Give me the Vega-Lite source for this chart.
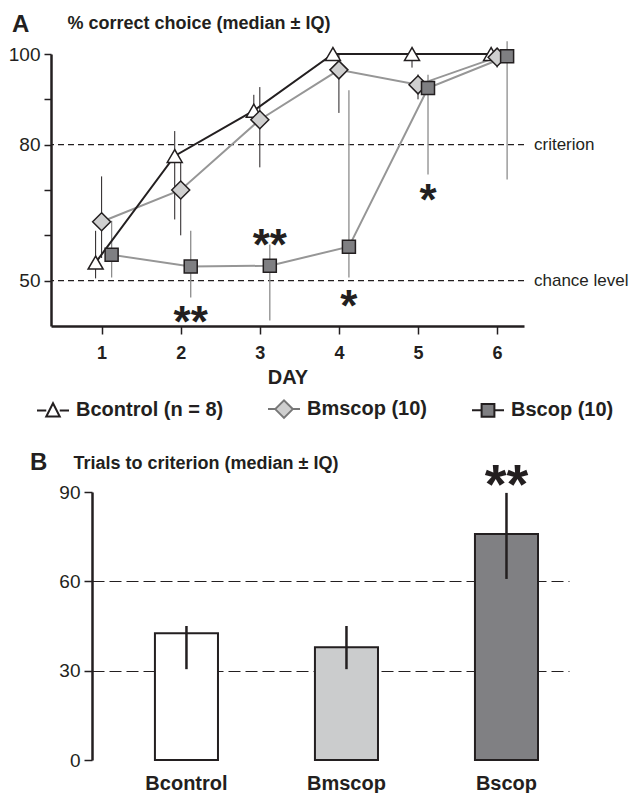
{
  "$schema": "https://vega.github.io/schema/vega-lite/v6.json",
  "background": "white",
  "padding": {"left": 8, "top": 13, "right": 0, "bottom": 0},
  "bounds": "flush",
  "spacing": 166,
  "config": {
    "font": "Liberation Sans",
    "view": {"stroke": null},
    "axis": {"domainColor": "#231f20", "tickColor": "#231f20", "labelColor": "#231f20", "titleColor": "#231f20", "grid": false, "labelFont": "Liberation Sans", "titleFont": "Liberation Sans"},
    "title": {"font": "Liberation Sans", "color": "#231f20"},
    "legend": {"labelFont": "Liberation Sans"}
  },
  "resolve": {"scale": {"x": "independent", "y": "independent", "fill": "independent"}, "legend": {"fill": "independent"}},
  "datasets": {
    "days": [
      {"group": "Bcontrol", "day": 1, "median": 54, "q1": 50.5, "q3": 61},
      {"group": "Bcontrol", "day": 2, "median": 77.5, "q1": 63.5, "q3": 83},
      {"group": "Bcontrol", "day": 3, "median": 87.5, "q1": 85, "q3": 91},
      {"group": "Bcontrol", "day": 4, "median": 100, "q1": null, "q3": null},
      {"group": "Bcontrol", "day": 5, "median": 100, "q1": 97, "q3": 100},
      {"group": "Bcontrol", "day": 6, "median": 100, "q1": null, "q3": null},
      {"group": "Bmscop", "day": 1, "median": 63, "q1": 55, "q3": 73},
      {"group": "Bmscop", "day": 2, "median": 70, "q1": 60, "q3": 76},
      {"group": "Bmscop", "day": 3, "median": 85.5, "q1": 75, "q3": 92.7},
      {"group": "Bmscop", "day": 4, "median": 96.5, "q1": 87, "q3": 100},
      {"group": "Bmscop", "day": 5, "median": 93.2, "q1": 90, "q3": 95.5},
      {"group": "Bmscop", "day": 6, "median": 99.3, "q1": 97, "q3": 100},
      {"group": "Bscop", "day": 1, "median": 55.7, "q1": 50.7, "q3": 63.2},
      {"group": "Bscop", "day": 2, "median": 53.1, "q1": 46.3, "q3": 61},
      {"group": "Bscop", "day": 3, "median": 53.3, "q1": 41.2, "q3": 58},
      {"group": "Bscop", "day": 4, "median": 57.5, "q1": 50.7, "q3": 92},
      {"group": "Bscop", "day": 5, "median": 92.5, "q1": 73.4, "q3": 95.4},
      {"group": "Bscop", "day": 6, "median": 99.5, "q1": 72.3, "q3": 102.8}
    ],
    "refs": [
      {"value": 80, "label": "criterion"},
      {"value": 50, "label": "chance level"}
    ],
    "stars": [
      {"day": 2, "y": 43, "sig": "**"},
      {"day": 3, "y": 60, "sig": "**"},
      {"day": 4, "y": 46.7, "sig": "*"},
      {"day": 5, "y": 70, "sig": "*"}
    ],
    "trials": [
      {"group": "Bcontrol", "median": 42.6, "q1": 30.5, "q3": 45, "sig": "", "sigY": null},
      {"group": "Bmscop", "median": 37.9, "q1": 30.5, "q3": 45, "sig": "", "sigY": null},
      {"group": "Bscop", "median": 75.9, "q1": 60.8, "q3": 89.7, "sig": "**", "sigY": 95.5}
    ]
  },
  "vconcat": [
    {
      "width": 473,
      "height": 272,
      "title": {"text": "A", "anchor": "start", "frame": "group", "dx": -39, "dy": 35, "fontSize": 24, "fontWeight": "bold", "baseline": "middle", "offset": 0},
      "layer": [
        {
          "data": {"name": "refs"},
          "mark": {"type": "rule", "strokeDash": [6, 4], "strokeWidth": 1.2, "color": "#231f20"},
          "encoding": {
            "y": {"field": "value", "type": "quantitative", "scale": {"domain": [40, 100], "nice": false, "zero": false},
              "axis": {"values": [50, 60, 70, 80, 90, 100], "labelExpr": "datum.value == 50 || datum.value == 80 || datum.value == 100 ? datum.label : ''", "labelFontSize": 19, "tickSize": 7, "tickWidth": 1.5, "labelPadding": 4, "domainWidth": 2.5,
                "title": "% correct choice (median ± IQ)", "titleAngle": 0, "titleAlign": "left", "titleBaseline": "middle", "titleX": 16, "titleY": -31, "titleFontSize": 18, "titleFontWeight": "bold"}}
          }
        },
        {
          "data": {"name": "refs"},
          "mark": {"type": "text", "x": "width", "dx": 10, "align": "left", "baseline": "middle", "fontSize": 17, "color": "#231f20"},
          "encoding": {
            "y": {"field": "value", "type": "quantitative", "scale": {"domain": [40, 100], "nice": false, "zero": false}},
            "text": {"field": "label"}
          }
        },
        {
          "data": {"name": "days"},
          "transform": [{"filter": "datum.group == 'Bcontrol'"}],
          "mark": {"type": "rule", "color": "#231f20", "strokeWidth": 1, "xOffset": -6},
          "encoding": {
            "x": {"field": "day", "type": "quantitative", "scale": {"domain": [0.36, 6.34], "nice": false, "zero": false},
              "axis": {"values": [1, 2, 3, 4, 5, 6], "format": "d", "labelFontSize": 18, "labelFontWeight": "bold", "tickSize": 8, "tickWidth": 1.5, "labelPadding": 10, "domainWidth": 2.5, "title": "DAY", "titleFontSize": 20, "titleFontWeight": "bold", "titlePadding": 5}},
            "y": {"field": "q1", "type": "quantitative", "scale": {"domain": [40, 100], "nice": false, "zero": false}},
            "y2": {"field": "q3"}
          }
        },
        {
          "data": {"name": "days"},
          "transform": [{"filter": "datum.group == 'Bmscop'"}],
          "mark": {"type": "rule", "color": "#231f20", "strokeWidth": 1, "xOffset": 0},
          "encoding": {
            "x": {"field": "day", "type": "quantitative", "scale": {"domain": [0.36, 6.34], "nice": false, "zero": false}},
            "y": {"field": "q1", "type": "quantitative", "scale": {"domain": [40, 100], "nice": false, "zero": false}},
            "y2": {"field": "q3"}
          }
        },
        {
          "data": {"name": "days"},
          "transform": [{"filter": "datum.group == 'Bscop'"}],
          "mark": {"type": "rule", "color": "#8c8c8c", "strokeWidth": 1.3, "xOffset": 10},
          "encoding": {
            "x": {"field": "day", "type": "quantitative", "scale": {"domain": [0.36, 6.34], "nice": false, "zero": false}},
            "y": {"field": "q1", "type": "quantitative", "scale": {"domain": [40, 100], "nice": false, "zero": false}},
            "y2": {"field": "q3"}
          }
        },
        {
          "data": {"name": "days"},
          "transform": [{"filter": "datum.group == 'Bscop'"}],
          "mark": {"type": "line", "stroke": "#969696", "strokeWidth": 2, "xOffset": 10},
          "encoding": {
            "x": {"field": "day", "type": "quantitative", "scale": {"domain": [0.36, 6.34], "nice": false, "zero": false}},
            "y": {"field": "median", "type": "quantitative", "scale": {"domain": [40, 100], "nice": false, "zero": false}}
          }
        },
        {
          "data": {"name": "days"},
          "transform": [{"filter": "datum.group == 'Bmscop'"}],
          "mark": {"type": "line", "stroke": "#969696", "strokeWidth": 2, "xOffset": 0},
          "encoding": {
            "x": {"field": "day", "type": "quantitative", "scale": {"domain": [0.36, 6.34], "nice": false, "zero": false}},
            "y": {"field": "median", "type": "quantitative", "scale": {"domain": [40, 100], "nice": false, "zero": false}}
          }
        },
        {
          "data": {"name": "days"},
          "transform": [{"filter": "datum.group == 'Bcontrol'"}],
          "mark": {"type": "line", "stroke": "#231f20", "strokeWidth": 2, "xOffset": -6},
          "encoding": {
            "x": {"field": "day", "type": "quantitative", "scale": {"domain": [0.36, 6.34], "nice": false, "zero": false}},
            "y": {"field": "median", "type": "quantitative", "scale": {"domain": [40, 100], "nice": false, "zero": false}}
          }
        },
        {
          "data": {"name": "days"},
          "transform": [{"filter": "datum.group == 'Bcontrol'"}],
          "mark": {"type": "point", "shape": "triangle-up", "size": 225, "filled": true, "opacity": 1, "stroke": "#231f20", "strokeWidth": 1.5, "xOffset": -6},
          "encoding": {
            "x": {"field": "day", "type": "quantitative", "scale": {"domain": [0.36, 6.34], "nice": false, "zero": false}},
            "y": {"field": "median", "type": "quantitative", "scale": {"domain": [40, 100], "nice": false, "zero": false}},
            "fill": {"field": "group", "type": "nominal", "scale": {"domain": ["Bcontrol", "Bmscop", "Bscop"], "range": ["#ffffff", "#cfcfcf", "#7f7f82"]},
              "legend": {"orient": "none", "legendX": -15, "legendY": 338, "direction": "horizontal", "columns": 3, "title": null,
                "labelFontSize": 20, "labelFontWeight": "bold", "labelColor": "#231f20", "labelOffset": 6, "columnPadding": 40,
                "symbolSize": 1024, "symbolStrokeWidth": 2,
                "symbolType": {"expr": "datum.value == 'Bcontrol' ? 'M-1,0H-0.42M0.42,0H1M0,-0.45L0.42,0.38L-0.42,0.38Z' : datum.value == 'Bmscop' ? 'M-1,0H-0.55M0.55,0H1M-0.55,0L0,-0.55L0.55,0L0,0.55Z' : 'M-1,0H-0.4M0.4,0H1M-0.4,-0.4H0.4V0.4H-0.4Z'"},
                "symbolStrokeColor": {"expr": "datum.value == 'Bmscop' ? '#777777' : '#231f20'"},
                "labelExpr": "datum.label == 'Bcontrol' ? 'Bcontrol (n = 8)' : datum.label + ' (10)'"
              }}
          }
        },
        {
          "data": {"name": "days"},
          "transform": [{"filter": "datum.group == 'Bmscop'"}],
          "mark": {"type": "point", "shape": "diamond", "size": 324, "filled": true, "opacity": 1, "stroke": "#231f20", "strokeWidth": 1.5, "xOffset": 0},
          "encoding": {
            "x": {"field": "day", "type": "quantitative", "scale": {"domain": [0.36, 6.34], "nice": false, "zero": false}},
            "y": {"field": "median", "type": "quantitative", "scale": {"domain": [40, 100], "nice": false, "zero": false}},
            "fill": {"field": "group", "type": "nominal"}
          }
        },
        {
          "data": {"name": "days"},
          "transform": [{"filter": "datum.group == 'Bscop'"}],
          "mark": {"type": "point", "shape": "square", "size": 169, "filled": true, "opacity": 1, "stroke": "#231f20", "strokeWidth": 1.5, "xOffset": 10},
          "encoding": {
            "x": {"field": "day", "type": "quantitative", "scale": {"domain": [0.36, 6.34], "nice": false, "zero": false}},
            "y": {"field": "median", "type": "quantitative", "scale": {"domain": [40, 100], "nice": false, "zero": false}},
            "fill": {"field": "group", "type": "nominal"}
          }
        },
        {
          "data": {"name": "stars"},
          "mark": {"type": "text", "fontSize": 44, "fontWeight": "bold", "baseline": "middle", "align": "center", "dy": 12, "xOffset": 10, "color": "#231f20"},
          "encoding": {
            "x": {"field": "day", "type": "quantitative", "scale": {"domain": [0.36, 6.34], "nice": false, "zero": false}},
            "y": {"field": "y", "type": "quantitative", "scale": {"domain": [40, 100], "nice": false, "zero": false}},
            "text": {"field": "sig"}
          }
        }
      ]
    },
    {
      "width": 518,
      "height": 268,
      "title": {"text": "B", "anchor": "start", "frame": "group", "dx": -21, "dy": 33, "fontSize": 24, "fontWeight": "bold", "baseline": "middle", "offset": 0},
      "data": {"name": "trials"},
      "layer": [
        {
          "mark": {"type": "bar", "stroke": "#231f20", "strokeWidth": 2},
          "encoding": {
            "x": {"field": "group", "type": "nominal", "sort": ["Bcontrol", "Bmscop", "Bscop"],
              "scale": {"range": [41, 518], "paddingInner": 0.606, "paddingOuter": 0.2935, "align": 0.67},
              "axis": {"title": null, "domain": false, "ticks": false, "tickSize": 0, "labelAngle": 0, "labelFontSize": 20, "labelFontWeight": "bold", "labelPadding": 13}},
            "y": {"field": "median", "type": "quantitative", "scale": {"domain": [0, 90], "nice": false},
              "axis": {"values": [0, 30, 60, 90], "offset": -41, "labelFontSize": 19, "tickSize": 8, "tickWidth": 1.5, "labelPadding": 4, "domainWidth": 2.5,
                "grid": true, "gridDash": [12, 5], "gridColor": "#231f20", "gridWidth": 1.2,
                "gridOpacity": {"condition": {"test": "datum.value == 30 || datum.value == 60", "value": 1}, "value": 0},
                "title": "Trials to criterion (median ± IQ)", "titleAngle": 0, "titleAlign": "left", "titleBaseline": "middle", "titleX": -19, "titleY": -29, "titleFontSize": 18, "titleFontWeight": "bold"}},
            "fill": {"field": "group", "type": "nominal", "scale": {"domain": ["Bcontrol", "Bmscop", "Bscop"], "range": ["#ffffff", "#cbcccd", "#808083"]}, "legend": null}
          }
        },
        {
          "mark": {"type": "rule", "strokeWidth": 2.5, "color": "#231f20"},
          "encoding": {
            "x": {"field": "group", "type": "nominal", "sort": ["Bcontrol", "Bmscop", "Bscop"]},
            "y": {"field": "q1", "type": "quantitative", "scale": {"domain": [0, 90], "nice": false}},
            "y2": {"field": "q3"}
          }
        },
        {
          "transform": [{"filter": "datum.sig != ''"}],
          "mark": {"type": "text", "fontSize": 56, "fontWeight": "bold", "baseline": "middle", "align": "center", "dy": 10, "color": "#231f20"},
          "encoding": {
            "x": {"field": "group", "type": "nominal", "sort": ["Bcontrol", "Bmscop", "Bscop"]},
            "y": {"field": "sigY", "type": "quantitative", "scale": {"domain": [0, 90], "nice": false}},
            "text": {"field": "sig"}
          }
        }
      ]
    }
  ]
}
